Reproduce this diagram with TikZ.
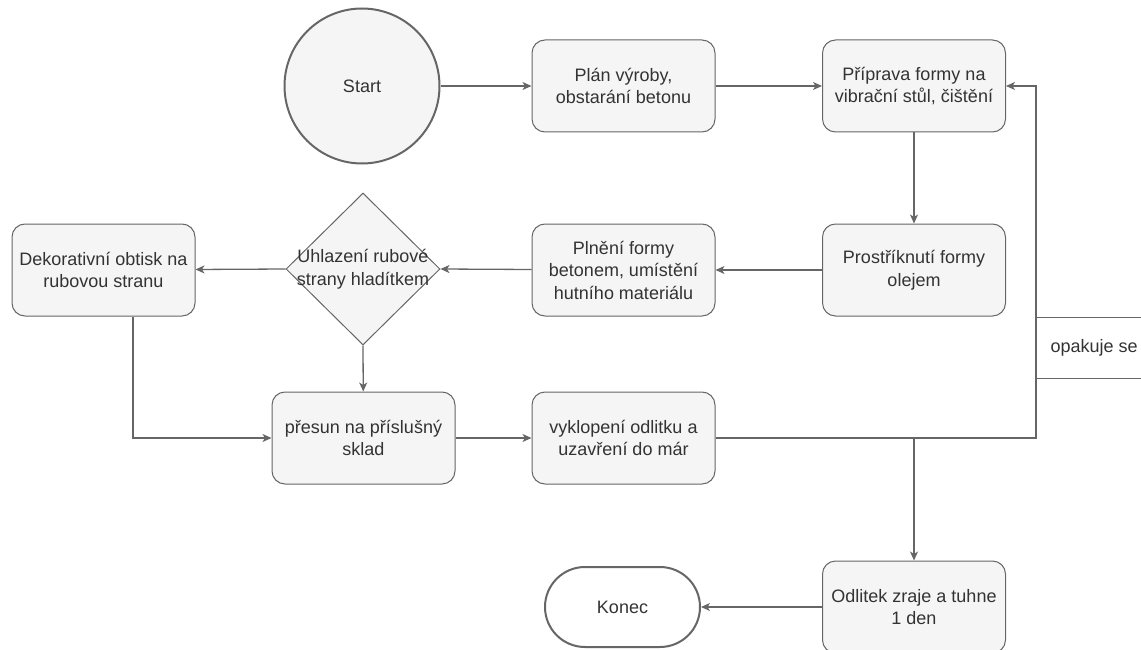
\documentclass[tikz,border=0pt]{standalone}
\usepackage{fontspec}
\setmainfont{Liberation Sans}
\usetikzlibrary{arrows.meta,shapes.geometric,calc}
\definecolor{ink}{HTML}{333333}
\definecolor{edge}{HTML}{666666}
\definecolor{boxfill}{HTML}{F5F5F5}
\tikzset{
  txt/.style={font=\fontsize{18}{22.5}\selectfont, text=ink, align=center},
  stepbox/.style={txt, draw=edge, line width=1pt, fill=boxfill, rounded corners=13pt,
    minimum width=183pt, minimum height=92pt, inner sep=0pt},
  arr/.style={draw=edge, line width=1.3pt,
    -{Stealth[length=9pt,width=8pt,inset=2.5pt]}},
  ln/.style={draw=edge, line width=1.3pt},
}
\begin{document}
\begin{tikzpicture}[x=1pt,y=-1pt]
\useasboundingbox (0,0) rectangle (1141,650);

% nodes
\node[txt, circle, draw=edge, line width=2pt, fill=boxfill, minimum size=155pt, inner sep=0pt]
  (start) at (362,86) {Start};
\node[stepbox] (plan) at (623.5,86) {Plán výroby,\\obstarání betonu};
\node[stepbox] (prip) at (914,86) {Příprava formy na\\vibrační stůl, čištění};
\node[stepbox] (prost) at (914,270) {Prostříknutí formy\\olejem};
\node[stepbox] (plneni) at (623.5,270) {Plnění formy\\betonem, umístění\\hutního materiálu};
\node[diamond, draw=edge, line width=1pt, fill=boxfill, minimum width=154pt,
  minimum height=152pt, inner sep=0pt] (uhl) at (363,269) {};
\node[txt] (uhltxt) at (uhl.center) {Uhlazení rubové\\strany hladítkem};
\node[stepbox] (dek) at (103.5,270) {Dekorativní obtisk na\\rubovou stranu};
\node[stepbox] (presun) at (363.5,438) {přesun na příslušný\\sklad};
\node[stepbox] (vyk) at (623.5,438) {vyklopení odlitku a\\uzavření do már};
\node[stepbox] (odl) at (914,607) {Odlitek zraje a tuhne\\1 den};
\node[txt, draw=edge, line width=2pt, fill=white, rounded corners=40pt,
  minimum width=155pt, minimum height=80pt, inner sep=0pt] (konec) at (622.5,607) {Konec};

% loop-back label
\node[txt, anchor=west] (opak) at (1047,348) {opakuje se};
\draw[ln, line width=1pt] (1036,317) -- (1141,317);
\draw[ln, line width=1pt] (1036,378) -- (1141,378);

% connectors
\coordinate (lp) at (1036,86);
\draw[arr] (start) -- (plan);
\draw[arr] (plan) -- (prip);
\draw[arr] (prip) -- (prost);
\draw[arr] (prost) -- (plneni);
\draw[arr] (plneni) -- (uhl.east);
\draw[arr] (uhl.west) -- (dek);
\draw[arr] (uhl.south) -- (presun);
\draw[arr] ([xshift=29.5pt]dek.south) |- (presun.west);
\draw[arr] (presun) -- (vyk);
\draw[arr] (vyk.east) -| (lp) -- (prip.east);
\draw[arr] (vyk.east -| odl.north) -- (odl.north);
\draw[arr] (odl) -- (konec);
\end{tikzpicture}
\end{document}
